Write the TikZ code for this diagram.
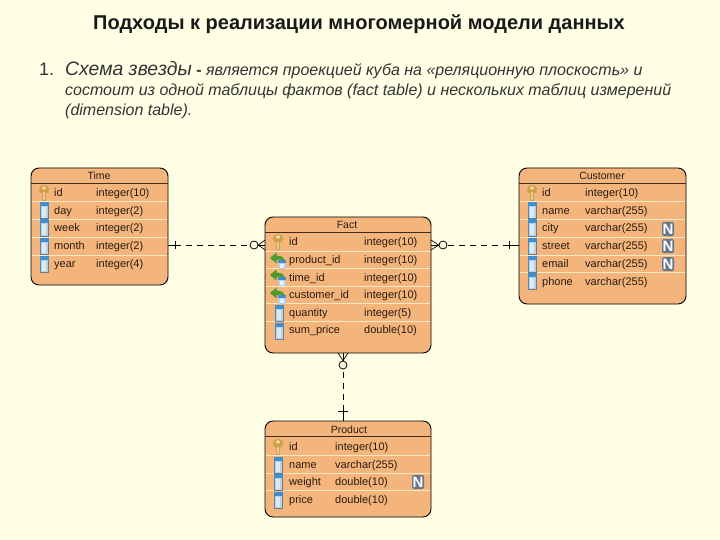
\documentclass[tikz,border=0pt]{standalone}
\usepackage{fontspec}
\setmainfont{Liberation Sans}
\usetikzlibrary{calc}
\definecolor{pagebg}{HTML}{FFFFE5}
\definecolor{tablefill}{HTML}{F3B57C}
\definecolor{sepcol}{HTML}{FFE9C4}
\definecolor{txtcol}{HTML}{2A1A10}
\definecolor{keygold}{HTML}{CFA044}
\definecolor{colblue}{HTML}{3F8FD0}
\definecolor{colbody}{HTML}{B9CFE2}
\definecolor{fkgreen}{HTML}{4E9A2E}
\definecolor{nframe}{HTML}{66778A}
\newcounter{rowno}
\tikzset{
  tablebox/.style={draw=black,line width=0.9pt,fill=tablefill,rounded corners=8pt,anchor=north west,inner sep=0pt,outer sep=0pt},
  headtext/.style={font=\fontsize{10.5}{12}\selectfont,text=txtcol,inner sep=0pt},
  celltext/.style={font=\fontsize{11}{13}\selectfont,text=txtcol,anchor=base west,inner sep=0pt},
  relline/.style={line width=0.8pt,dash pattern=on 6pt off 5pt},
  relsolid/.style={line width=0.7pt},
  relcircle/.style={circle,draw=black,line width=0.8pt,fill=pagebg,minimum size=8pt,inner sep=0pt},
  seprule/.style={sepcol,line width=1pt},
  headrule/.style={black!75!tablefill,line width=0.8pt},
  titletext/.style={font=\bfseries\fontsize{20}{24}\selectfont,text=black!90,inner sep=0pt},
  bodytext/.style={font=\itshape\fontsize{16}{20}\selectfont,text=black!80,anchor=base west,inner sep=0pt},
}
% icons, centre (x,y)
\newcommand{\keyicon}[2]{%
  \begin{scope}[shift={(#1,#2)}]
    \fill[keygold] (-2.2,-1) rectangle (2.2,8);
    \fill[keygold] (0,-3.5) ellipse (5.2 and 4.6);
    \fill[tablefill!50!white] (0,-5) ellipse (2 and 1.6);
    \fill[keygold!55!white] (-0.8,-0.5) rectangle (0.5,7);
  \end{scope}}
\newcommand{\colicon}[2]{%
  \begin{scope}[shift={(#1,#2)}]
    \fill[colbody] (-4.5,-8.5) rectangle (4.5,8.5);
    \fill[colblue] (-4.5,-8.5) rectangle (4.5,-4.5);
    \fill[colblue!80!gray] (-4.5,-4.5) rectangle (-3.6,8.5);
    \fill[black!40!colbody] (3.6,-4.5) rectangle (4.5,8.5);
    \fill[black!40!colbody] (-4.5,7.5) rectangle (4.5,8.5);
    \fill[white!55!colbody] (-2.4,-3.5) rectangle (2.4,7);
  \end{scope}}
\newcommand{\fkicon}[2]{%
  \begin{scope}[shift={(#1,#2)}]
    \fill[colbody] (-1,0) rectangle (7,8.5);
    \fill[colblue] (-1,0) rectangle (7,3);
    \fill[white!70!colbody] (1,4) rectangle (5,8);
    \fill[fkgreen] (-9,-2) -- (-2.5,-7.5) -- (-2.5,-4.5) -- (3,-3.5) -- (6.5,1) -- (1,-0.5) -- (-2.5,0) -- (-2.5,3.5) -- cycle;
  \end{scope}}
\newcommand{\nicon}[2]{%
  \begin{scope}[shift={(#1,#2)}]
    \fill[nframe,rounded corners=1.5pt] (-6,-7) rectangle (6,7);
    \node[inner sep=0pt,text=white,font=\bfseries\fontsize{15}{15}\selectfont] (n\the\value{rowno}) at (0,0) {N};
  \end{scope}}
% \cellrow{icon x}{name x}{type x}{baseline y}{name}{type}
\newcommand{\cellrow}[6]{%
  \stepcounter{rowno}%
  \node[celltext] (nm\therowno) at (#2,#4) {#5};
  \node[celltext] (ty\therowno) at (#3,#4) {#6};}
\begin{document}
\begin{tikzpicture}[x=1pt,y=-1pt]
\useasboundingbox (0,0) rectangle (720,540);
\fill[pagebg] (0,0) rectangle (720,540);

% heading
\node[titletext] (title) at (359,24) {Подходы к реализации многомерной модели данных};
\node[bodytext,font=\fontsize{18}{20}\selectfont] (num) at (39,75.5) {1.};
\node[bodytext] (line1) at (65,75.5) {{\fontsize{19.4}{20}\selectfont Схема звезды} {\upshape\bfseries -} является проекцией куба на «реляционную плоскость» и};
\node[bodytext] (line2) at (65,96) {состоит из одной таблицы фактов (fact table) и нескольких таблиц измерений};
\node[bodytext] (line3) at (65,115.5) {(dimension table).};

% tables
\node[tablebox,minimum width=137pt,minimum height=117pt] (time) at (31,168) {};
\node[tablebox,minimum width=166pt,minimum height=136pt] (fact) at (265,217) {};
\node[tablebox,minimum width=167pt,minimum height=136pt] (customer) at (519,168) {};
\node[tablebox,minimum width=166pt,minimum height=96pt] (product) at (265,421) {};

% Time
\draw[headrule] (31,183) -- (168,183);
\foreach \y in {202,219.5,237,255} \draw[seprule] (32,\y) -- (167,\y);
\node[headtext] (timeh) at (99,176) {Time};
\keyicon{44}{193}
\colicon{44}{211}\colicon{44}{228}\colicon{44}{246}\colicon{44}{264}
\cellrow{44}{54}{96}{196.5}{id}{integer(10)}
\cellrow{44}{54}{96}{214.5}{day}{integer(2)}
\cellrow{44}{54}{96}{232}{week}{integer(2)}
\cellrow{44}{54}{96}{249.5}{month}{integer(2)}
\cellrow{44}{54}{96}{267}{year}{integer(4)}

% Fact
\draw[headrule] (265,232) -- (431,232);
\foreach \y in {251,268.5,286,303.5,321} \draw[seprule] (266,\y) -- (430,\y);
\node[headtext] (facth) at (347,225) {Fact};
\keyicon{278}{242}
\fkicon{279}{260}\fkicon{279}{277}\fkicon{279}{295}
\colicon{279}{313}\colicon{279}{331}
\cellrow{278}{289}{364}{245.5}{id}{integer(10)}
\cellrow{278}{289}{364}{263}{product\_id}{integer(10)}
\cellrow{278}{289}{364}{281}{time\_id}{integer(10)}
\cellrow{278}{289}{364}{298.5}{customer\_id}{integer(10)}
\cellrow{278}{289}{364}{316}{quantity}{integer(5)}
\cellrow{278}{289}{364}{333.5}{sum\_price}{double(10)}

% Customer
\draw[headrule] (519,183) -- (686,183);
\foreach \y in {202,220,237.5,255,272.5} \draw[seprule] (520,\y) -- (685,\y);
\node[headtext] (custh) at (602,176) {Customer};
\keyicon{532}{193}
\colicon{532}{211}\colicon{532}{228}\colicon{532}{246}\colicon{532}{264}\colicon{532}{281}
\cellrow{532}{542}{585}{196.5}{id}{integer(10)}
\cellrow{532}{542}{585}{214.5}{name}{varchar(255)}
\cellrow{532}{542}{585}{232}{city}{varchar(255)}
\nicon{668}{229}
\cellrow{532}{542}{585}{249.5}{street}{varchar(255)}
\nicon{668}{246}
\cellrow{532}{542}{585}{267}{email}{varchar(255)}
\nicon{668}{264}
\cellrow{532}{542}{585}{285}{phone}{varchar(255)}

% Product
\draw[headrule] (265,436) -- (431,436);
\foreach \y in {455,473,490} \draw[seprule] (266,\y) -- (430,\y);
\node[headtext] (prodh) at (349,430) {Product};
\keyicon{278}{447}
\colicon{278}{465}\colicon{278}{482}\colicon{278}{500}
\cellrow{278}{289}{335}{450}{id}{integer(10)}
\cellrow{278}{289}{335}{468}{name}{varchar(255)}
\cellrow{278}{289}{335}{485}{weight}{double(10)}
\nicon{418}{482}
\cellrow{278}{289}{335}{503}{price}{double(10)}

% relationships
\node[relcircle] (c1) at (254,245) {};
\node[relcircle] (c2) at (443,245) {};
\node[relcircle] (c3) at (343,365) {};
\coordinate (b1) at (175,245);
\coordinate (b2) at (509,245);
\coordinate (b3) at (343,411);
% Time - Fact
\draw[relsolid] (time.east |- b1) -- (b1);
\draw[relsolid] ($(b1)+(0,-4)$) -- ($(b1)+(0,4)$);
\draw[relline] (b1) -- (c1);
\draw[relsolid] (c1) -- (fact.west |- c1);
\draw[relsolid] ($(c1.east)$) -- ($(fact.west |- c1)+(0,-5)$);
\draw[relsolid] ($(c1.east)$) -- ($(fact.west |- c1)+(0,5)$);
% Fact - Customer
\draw[relsolid] (customer.west |- b2) -- (b2);
\draw[relsolid] ($(b2)+(0,-4)$) -- ($(b2)+(0,4)$);
\draw[relline] (b2) -- (c2);
\draw[relsolid] (c2) -- (fact.east |- c2);
\draw[relsolid] (c2.west) -- ($(fact.east |- c2)+(0,-5)$);
\draw[relsolid] (c2.west) -- ($(fact.east |- c2)+(0,5)$);
% Fact - Product
\draw[relsolid] (product.north -| b3) -- (b3);
\draw[relsolid] ($(b3)+(-5,0)$) -- ($(b3)+(5,0)$);
\draw[relline] (b3) -- (c3);
\draw[relsolid] (c3) -- (fact.south -| c3);
\draw[relsolid] (c3.north) -- ($(fact.south -| c3)+(-5,0)$);
\draw[relsolid] (c3.north) -- ($(fact.south -| c3)+(5,0)$);
\end{tikzpicture}
\end{document}
